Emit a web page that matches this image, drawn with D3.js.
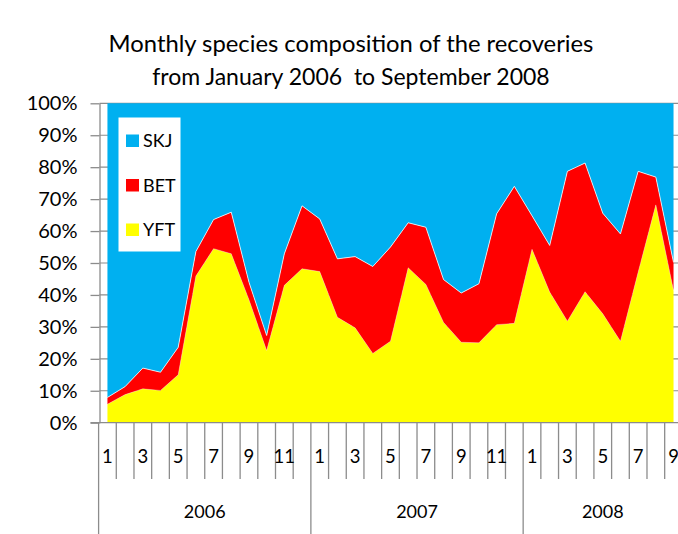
<!DOCTYPE html>
<html>
<head>
<meta charset="utf-8">
<script src="https://cdn.jsdelivr.net/npm/d3@7"></script>
<style>
  body { margin: 0; background: #fff; }
  svg { display: block; font-family: Lato, "Open Sans", sans-serif; }
</style>
</head>
<body>
<svg id="chart" width="678" height="534"></svg>
<script>
// Monthly species shares (%) of tag recoveries, Jan 2006 - Sep 2008
const years = ["2006", "2007", "2008"];
const monthsPerYear = [12, 12, 9];
const species = ["YFT", "BET", "SKJ"];
const legendOrder = ["SKJ", "BET", "YFT"];

const yft = [5.8, 8.8, 10.6, 10.1, 15.0, 45.9, 54.5, 52.9, 38.5, 22.6, 43.0, 48.2,
             47.3, 33.0, 29.7, 21.7, 25.5, 48.5, 43.3, 31.4, 25.2, 25.0, 30.7, 31.1,
             54.3, 40.9, 31.8, 41.0, 34.1, 25.5, 47.1, 68.2, 41.4];
const bet = [2.1, 2.5, 6.5, 5.7, 8.6, 7.7, 9.1, 13.0, 5.5, 4.7, 9.9, 19.7,
             16.5, 18.3, 22.3, 27.2, 29.5, 14.1, 17.9, 13.4, 15.4, 18.5, 34.7, 42.9,
             10.5, 14.6, 46.9, 40.3, 31.5, 33.6, 31.6, 8.7, 8.8];
const skj = [92.1, 88.7, 82.9, 84.2, 76.4, 46.4, 36.4, 34.1, 56.0, 72.7, 47.1, 32.1,
             36.2, 48.7, 48.0, 51.1, 45.0, 37.4, 38.8, 55.2, 59.4, 56.5, 34.6, 26.0,
             35.2, 44.5, 21.3, 18.7, 34.4, 40.9, 21.3, 23.1, 49.8];
const yTicks = [0, 10, 20, 30, 40, 50, 60, 70, 80, 90, 100];
const titleLines = ["Monthly species composition of the recoveries",
                    "from January 2006\u00a0 to September 2008"];

const colors = { SKJ: "#00B0F0", BET: "#FF0000", YFT: "#FFFF00" };
const axisGray = "#8c8c8c";

// one category per month
const months = [];
years.forEach((yr, yi) => {
  for (let m = 1; m <= monthsPerYear[yi]; m++) months.push({ year: yr, month: m, key: yr + "-" + m });
});
const rows = months.map((c, i) => ({ key: c.key, YFT: yft[i], BET: bet[i], SKJ: skj[i] }));

const svg = d3.select("#chart");

const bandStart = 98.6, step = 17.69;
const x = d3.scaleBand()
  .domain(months.map(d => d.key))
  .range([bandStart, bandStart + step * months.length])
  .padding(0);
const cx = k => x(k) + x.bandwidth() / 2;

const y = d3.scaleLinear().domain([0, 100]).range([422.7, 103.3]);
const axisX = 99.5;
const plotRight = bandStart + step * months.length;

// horizontal gridlines behind the areas
svg.append("g")
  .selectAll("line")
  .data(yTicks.filter(t => t > 0))
  .join("line")
  .attr("x1", axisX).attr("x2", plotRight)
  .attr("y1", d => y(d)).attr("y2", d => y(d))
  .attr("stroke", axisGray).attr("stroke-width", 1.2);

// 100% stacked areas
const stack = d3.stack().keys(species);
const series = stack(rows);
const area = d3.area()
  .x(d => cx(d.data.key))
  .y0(d => y(d[0]))
  .y1(d => y(d[1]));

svg.append("g")
  .selectAll("path")
  .data(series)
  .join("path")
  .attr("d", area)
  .attr("fill", d => colors[d.key]);

// thin light edge along the top of the BET and YFT layers
const edge = d3.line().x(d => cx(d.data.key)).y(d => y(d[1]));
svg.append("path")
  .attr("d", edge(series[1]))
  .attr("fill", "none").attr("stroke", "#fff").attr("stroke-opacity", 0.75).attr("stroke-width", 1);
svg.append("path")
  .attr("d", edge(series[0]))
  .attr("fill", "none").attr("stroke", "#fff").attr("stroke-opacity", 0.3).attr("stroke-width", 1);

// value axis
const yAxis = svg.append("g")
  .attr("transform", `translate(${axisX},0)`)
  .call(d3.axisLeft(y).tickValues(yTicks).tickFormat(d => d + "%").tickSize(9).tickSizeOuter(0).tickPadding(13));
yAxis.select(".domain").attr("stroke", axisGray).attr("stroke-width", 1.3);
yAxis.selectAll(".tick line").attr("stroke", axisGray).attr("stroke-width", 1.3);
yAxis.selectAll(".tick text")
  .attr("font-size", 20).attr("fill", "#000")
  .attr("font-family", "Lato, sans-serif");

// category axis: baseline, month ticks, year dividers
const xg = svg.append("g");
const baseY = y(0);
xg.append("line")
  .attr("x1", axisX - 9).attr("x2", 678)
  .attr("y1", baseY).attr("y2", baseY)
  .attr("stroke", axisGray).attr("stroke-width", 1.3);

const yearStartIdx = [];
let acc = 0;
monthsPerYear.forEach(n => { yearStartIdx.push(acc); acc += n; });

months.forEach((c, i) => {
  const isYearStart = yearStartIdx.includes(i);
  xg.append("line")
    .attr("x1", x(c.key)).attr("x2", x(c.key))
    .attr("y1", baseY).attr("y2", isYearStart ? 534 : 479)
    .attr("stroke", axisGray).attr("stroke-width", 1.3);
});
xg.append("line")
  .attr("x1", plotRight).attr("x2", plotRight)
  .attr("y1", baseY).attr("y2", 534)
  .attr("stroke", axisGray).attr("stroke-width", 1.3);

xg.selectAll("text.month")
  .data(months.filter(c => c.month % 2 === 1))
  .join("text")
  .attr("class", "month")
  .attr("x", d => cx(d.key))
  .attr("y", 463)
  .attr("text-anchor", "middle")
  .attr("font-size", 18.5)
  .text(d => d.month);

xg.selectAll("text.year")
  .data(years)
  .join("text")
  .attr("class", "year")
  .attr("x", (d, i) => {
    const a = x(months[yearStartIdx[i]].key);
    const b = a + step * monthsPerYear[i];
    return (a + b) / 2;
  })
  .attr("y", 518)
  .attr("text-anchor", "middle")
  .attr("font-size", 18)
  .text(d => d);

// legend
const lg = svg.append("g");
lg.append("rect")
  .attr("x", 118.5).attr("y", 117.5).attr("width", 62).attr("height", 134)
  .attr("fill", "#fff");
legendOrder.forEach((k, i) => {
  const yy = 134.5 + i * 44.5;
  lg.append("rect").attr("x", 126).attr("y", yy).attr("width", 13).attr("height", 12.5).attr("fill", colors[k]);
  lg.append("text").attr("x", 143).attr("y", yy + 12.5).attr("font-size", 18).text(k);
});

// title
svg.append("g")
  .selectAll("text")
  .data(titleLines)
  .join("text")
  .attr("x", 351)
  .attr("y", (d, i) => 52 + i * 33)
  .attr("text-anchor", "middle")
  .attr("font-size", (d, i) => i === 0 ? 23.8 : 23)
  .text(d => d);
</script>
</body>
</html>
